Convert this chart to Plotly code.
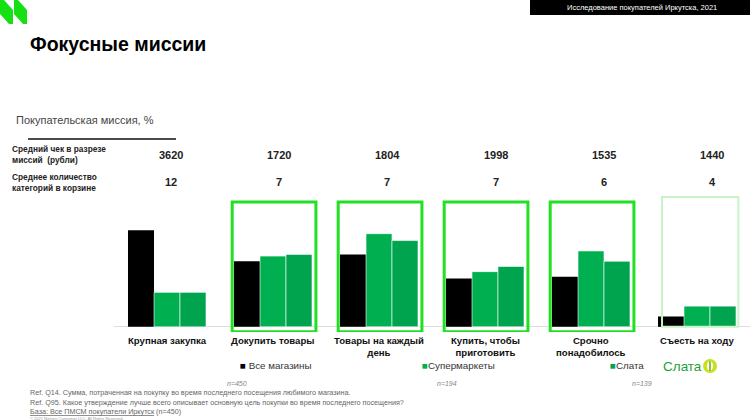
import plotly.graph_objects as go

# ---------------- data ----------------
categories = ["Крупная закупка", "Докупить товары", "Товары на каждый<br>день",
              "Купить, чтобы<br>приготовить", "Срочно<br>понадобилось", "Съесть на ходу"]
series_names = ["Все магазины", "Супермаркеты", "Слата"]
all_stores = [28, 19, 21, 14, 14.5, 3]
supermarkets = [10, 20.5, 27, 16, 22, 6]
slata = [10, 21, 25, 17.5, 19, 6]
avg_check = ["3620", "1720", "1804", "1998", "1535", "1440"]
avg_categories = ["12", "7", "7", "7", "6", "4"]
sample_sizes = ["n=450", "n=194", "n=139"]
highlighted = [1, 2, 3, 4]

W, H = 750, 420
ML, MR, MT, MB = 114, 0, 194, 88
PW, PH = W - ML - MR, H - MT - MB
YR = [-1.5, 38.5]

def xp(px):
    return (px - ML) / PW

def yp(py):
    return (H - MB - py) / PH

FONT = "Liberation Sans, Arial, sans-serif"
C_BLACK = "#000000"
C_SUP = "#00B050"
C_SLATA = "#00A34E"
C_BOX = "#22E022"

fig = go.Figure()
x_idx = list(range(len(categories)))
for name, vals, col in zip(series_names, [all_stores, supermarkets, slata],
                           [C_BLACK, C_SUP, C_SLATA]):
    fig.add_trace(go.Bar(
        x=x_idx, y=vals, name=name, marker_color=col,
        marker_line=dict(color="white", width=0.6 if col != C_BLACK else 0),
        showlegend=False, hoverinfo="skip"))

shapes = []
annotations = []

# highlight boxes
for i in highlighted:
    shapes.append(dict(type="rect", xref="x", yref="y", x0=i - 0.385, x1=i + 0.405,
                       y0=-1.45, y1=36.2, line=dict(color=C_BOX, width=3),
                       fillcolor="rgba(0,0,0,0)", layer="above"))
shapes.append(dict(type="rect", xref="x", yref="y", x0=5 - 0.33, x1=5 + 0.39,
                   y0=0, y1=37.6, line=dict(color="#C6F4C6", width=2),
                   fillcolor="rgba(0,0,0,0)", layer="above"))

# category labels
for i, c in enumerate(categories):
    annotations.append(dict(xref="x", yref="y", x=i, y=-1.5, yshift=-1,
                            text="<b>" + c + "</b>", showarrow=False, yanchor="top",
                            font=dict(family=FONT, size=9.6, color="#111"),
                            align="center"))

# header rows values: columns spaced slightly wider than the bar groups
HDR_X0, HDR_STEP = 171, 108.2
for i, (a, b) in enumerate(zip(avg_check, avg_categories)):
    for txt, py in ((a, 155), (b, 182)):
        annotations.append(dict(xref="paper", yref="paper", x=xp(HDR_X0 + HDR_STEP * i),
                                y=yp(py), text="<b>" + txt + "</b>", showarrow=False,
                                xanchor="center", yanchor="middle",
                                font=dict(family=FONT, size=11, color="#222")))

def ptext(px, py, text, size, color="#222", xanchor="left", bold=False, italic=False,
          family=FONT, align="left"):
    t = text
    if bold:
        t = "<b>" + t + "</b>"
    if italic:
        t = "<i>" + t + "</i>"
    annotations.append(dict(xref="paper", yref="paper", x=xp(px), y=yp(py), text=t,
                            showarrow=False, xanchor=xanchor, yanchor="middle",
                            align=align, font=dict(family=family, size=size, color=color)))

# title and labels
ptext(28, 44, "Фокусные миссии", 19.5, "#000", bold=True)
ptext(14, 120, "Покупательская миссия, %", 11, "#444")
ptext(10, 154, "Средний чек в разрезе<br>миссий  (рубли)", 8.3, "#222", bold=True)
ptext(10, 182, "Среднее количество<br>категорий в корзине", 8.3, "#222", bold=True)

shapes.append(dict(type="line", xref="paper", yref="paper", x0=xp(28), x1=xp(176),
                   y0=yp(139), y1=yp(139), line=dict(color="#111", width=1.5)))

# header black bar
shapes.append(dict(type="rect", xref="paper", yref="paper", x0=xp(530), x1=xp(750),
                   y0=yp(0), y1=yp(15), fillcolor="#000", line=dict(width=0)))
ptext(642, 7.5, "Исследование покупателей Иркутска, 2021", 7.5, "#fff", xanchor="center")

# logo parallelograms
for off in (0, 14):
    pts = [(0, 0), (4, 0), (13, 10), (13, 24), (9, 24), (0, 14)]
    path = "M " + " L ".join(f"{xp(x + off):.5f},{yp(y):.5f}" for x, y in pts) + " Z"
    shapes.append(dict(type="path", xref="paper", yref="paper", path=path,
                       fillcolor="#14E014", line=dict(width=0)))

# legend
leg_x = [238, 420, 608]
for name, col, lx in zip(series_names, [C_BLACK, C_SUP, C_SLATA], leg_x):
    annotations.append(dict(xref="paper", yref="paper", x=xp(lx), y=yp(365),
                            text=f"<span style='color:{col}'>■</span>{' ' if col == C_BLACK else ''}{name}",
                            showarrow=False, xanchor="left", yanchor="middle",
                            font=dict(family=FONT, size=9.8, color="#333")))
# Slata logo
ptext(661, 366, "Слата", 13.5, "#1E9E3A")
shapes.append(dict(type="circle", xref="paper", yref="paper", x0=xp(703), x1=xp(717),
                   y0=yp(359), y1=yp(373), fillcolor="#C8E01E", line=dict(width=0)))
shapes.append(dict(type="circle", xref="paper", yref="paper", x0=xp(707), x1=xp(713),
                   y0=yp(361), y1=yp(371), fillcolor="#FFFFFF", line=dict(width=0)))
shapes.append(dict(type="rect", xref="paper", yref="paper", x0=xp(709), x1=xp(711),
                   y0=yp(361), y1=yp(371), fillcolor="#8CC63F", line=dict(width=0)))

# sample sizes
for s, cx in zip(sample_sizes, [237, 447, 642]):
    ptext(cx, 383, s, 7, "#888", xanchor="center", italic=True)

# footnotes
ptext(28, 392.5, "Ref. Q14. Сумма, потраченная на покупку во время последнего посещения любимого магазина.", 7.2, "#666")
ptext(28, 402, "Ref. Q95. Какое утверждение лучше всего описывает основную цель покупки во время последнего посещения?", 7.2, "#666")
ptext(28, 411, "<u>База: Все ПМСМ покупатели Иркутск</u> (n=450)", 7.2, "#666")
ptext(28, 418, "© 2021 Nielsen Consumer LLC. All Rights Reserved.", 4, "#999")

fig.update_layout(
    width=W, height=H, margin=dict(l=ML, r=MR, t=MT, b=MB),
    plot_bgcolor="white", paper_bgcolor="white",
    barmode="group", bargap=0.264, bargroupgap=0,
    xaxis=dict(range=[-0.5, 5.5], showticklabels=False, showgrid=False, zeroline=False,
               showline=False, ticks=""),
    yaxis=dict(range=YR, showticklabels=False, showgrid=False, zeroline=True,
               zerolinecolor="#DDDDDD", zerolinewidth=1, showline=False, ticks=""),
    shapes=shapes, annotations=annotations, font=dict(family=FONT),
)

fig.write_html("out.html")
